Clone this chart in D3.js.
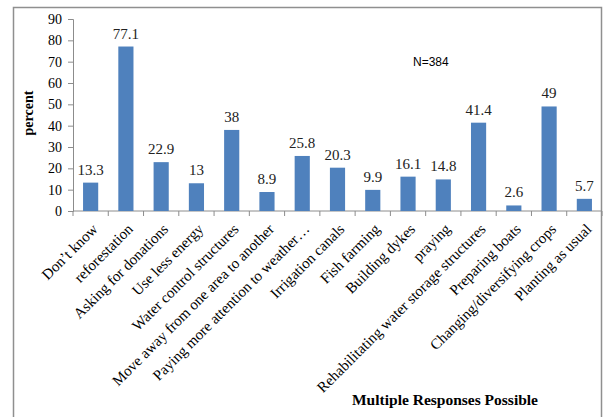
<!DOCTYPE html>
<html>
<head>
<meta charset="utf-8">
<script src="https://cdn.jsdelivr.net/npm/d3@7"></script>
<style>
  body { margin: 0; background: #fff; }
  svg { display: block; }
</style>
</head>
<body>
<svg id="drawing_region"></svg>
<script>
const categories = [
    'Don’t know', 'reforestation', 'Asking for donations', 'Use less energy',
    'Water control structures', 'Move away from one area to another',
    'Paying more attention to weather…', 'Irrigation canals', 'Fish farming',
    'Building dykes', 'praying', 'Rehabilitating  water storage structures',
    'Preparing boats', 'Changing/diversifying crops', 'Planting as usual'
];
const values = [13.3, 77.1, 22.9, 13, 38, 8.9, 25.8, 20.3, 9.9, 16.1, 14.8, 41.4, 2.6, 49, 5.7];
const yticks = [0, 10, 20, 30, 40, 50, 60, 70, 80, 90];

const width = 603;
const height = 417;
const margin = { top: 19, right: 1, bottom: 206, left: 73 };
const inner_width = width - margin.left - margin.right;
const inner_height = height - margin.top - margin.bottom;
const serif = '"Liberation Serif", "Times New Roman", serif';

const svg = d3.select('#drawing_region')
    .attr('width', width)
    .attr('height', height);

// outer frame
svg.append('rect')
    .attr('x', 13.5).attr('y', 7.5)
    .attr('width', 588).attr('height', 420)
    .attr('fill', 'none')
    .attr('stroke', '#8f8f8f')
    .attr('stroke-width', 1.5);

const chart = svg.append('g')
    .attr('transform', `translate(${margin.left}, ${margin.top})`);

const xscale = d3.scaleBand()
    .domain(categories)
    .range([0, inner_width])
    .paddingInner(0.57)
    .paddingOuter(0.285);

const yscale = d3.scaleLinear()
    .domain([0, 90])
    .range([inner_height, 0]);

// y axis
const yaxis = chart.append('g')
    .call(d3.axisLeft(yscale).tickValues(yticks).tickSize(5).tickPadding(6));
yaxis.selectAll('text')
    .attr('font-family', serif)
    .attr('font-size', '14px')
    .attr('fill', '#000');
yaxis.selectAll('line, path').attr('stroke', '#8c8c8c');

// x axis: tick marks on category boundaries
const xaxis = chart.append('g')
    .attr('transform', `translate(0, ${inner_height})`);
xaxis.append('line')
    .attr('x1', 0).attr('x2', inner_width)
    .attr('stroke', '#8c8c8c');
const step = xscale.step();
xaxis.selectAll('.tick')
    .data(d3.range(categories.length + 1))
    .enter()
    .append('line')
    .attr('x1', i => i * step).attr('x2', i => i * step)
    .attr('y1', 0).attr('y2', 5)
    .attr('stroke', '#8c8c8c');

xaxis.selectAll('.xlabel')
    .data(categories)
    .enter()
    .append('text')
    .attr('transform', d => `translate(${xscale(d) + xscale.bandwidth() / 2 + 8}, 19) rotate(-45)`)
    .attr('text-anchor', 'end')
    .attr('font-family', serif)
    .attr('font-size', '15px')
    .attr('fill', '#000')
    .text(d => d);

// bars
chart.selectAll('.bar')
    .data(values)
    .enter()
    .append('rect')
    .attr('x', (d, i) => xscale(categories[i]))
    .attr('y', d => yscale(d))
    .attr('width', xscale.bandwidth())
    .attr('height', d => inner_height - yscale(d))
    .attr('fill', '#4f81bd');

// value labels
chart.selectAll('.val')
    .data(values)
    .enter()
    .append('text')
    .attr('x', (d, i) => xscale(categories[i]) + xscale.bandwidth() / 2)
    .attr('y', d => yscale(d) - 8)
    .attr('text-anchor', 'middle')
    .attr('font-family', serif)
    .attr('font-size', '15px')
    .attr('fill', '#222')
    .text(d => d);

svg.append('text')
    .attr('x', 413)
    .attr('y', 66)
    .attr('font-family', 'Arial, "Liberation Sans", sans-serif')
    .attr('font-size', '12px')
    .text('N=384');

svg.append('text')
    .attr('transform', 'rotate(-90)')
    .attr('x', -113)
    .attr('y', 33)
    .attr('text-anchor', 'middle')
    .attr('font-family', serif)
    .attr('font-size', '14px')
    .attr('font-weight', 'bold')
    .text('percent');

svg.append('text')
    .attr('x', 445)
    .attr('y', 405)
    .attr('text-anchor', 'middle')
    .attr('font-family', serif)
    .attr('font-size', '15.5px')
    .attr('font-weight', 'bold')
    .text('Multiple Responses Possible');
</script>
</body>
</html>
